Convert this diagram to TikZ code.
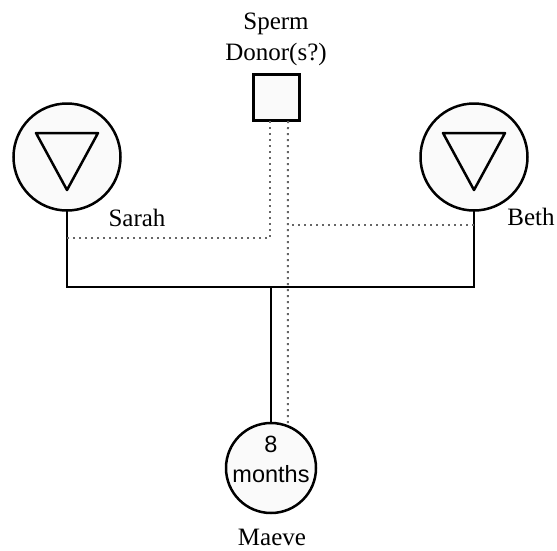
\documentclass[tikz,border=0pt]{standalone}
\usepackage{fontspec}
\setmainfont{Liberation Serif}
\setsansfont{Liberation Sans}
\begin{document}
\begin{tikzpicture}[x=1pt,y=-1pt,
  person/.style={circle,draw=black,line width=2.5pt,fill=black!2,inner sep=0pt,outer sep=0pt},
  donorbox/.style={rectangle,draw=black,line width=3pt,fill=black!2,minimum size=46pt,inner sep=0pt,outer sep=0pt},
  rel/.style={line width=2.5pt,black},
  dotrel/.style={line width=2pt,black!60,dash pattern=on 2pt off 4pt},
  lbl/.style={font=\fontsize{25}{31}\selectfont,inner sep=0pt,anchor=base},
  tri/.style={line width=2.5pt,line join=round}]
\useasboundingbox (0,0) rectangle (557,550);
\node[person,minimum size=107pt] (sarah) at (67,157) {};
\node[person,minimum size=107pt] (beth) at (474,157) {};
\node[donorbox] (donor) at (276,97) {};
\node[person,minimum size=90pt] (maeve) at (271,468) {};
\draw[tri] ([shift={(-31,-24)}]sarah.center) -- ([shift={(31,-24)}]sarah.center) -- ([shift={(0,33)}]sarah.center) -- cycle;
\draw[tri] ([shift={(-31,-24)}]beth.center) -- ([shift={(31,-24)}]beth.center) -- ([shift={(0,33)}]beth.center) -- cycle;
\node[lbl,align=center] (donorlbl) at (276,60) {Sperm\\Donor(s?)};
\node[lbl] (sarahlbl) at (137,226) {Sarah};
\node[lbl] (bethlbl) at (531,225) {Beth};
\node[lbl] (maevelbl) at (272,545) {Maeve};
\node[font=\sffamily\fontsize{23.5}{30}\selectfont,align=center,inner sep=0pt,anchor=base] (age) at (271,482) {8\\months};
\coordinate (sl) at (67,287);
\coordinate (br) at (474,287);
\coordinate (mid) at (271,287);
\draw[rel] (sarah.south) -- (sl) -- (br) -- (beth.south);
\draw[rel] (mid) -- (maeve.north);
\coordinate (d1) at (270,121);
\coordinate (d1b) at (270,238);
\coordinate (sd) at (67,238);
\coordinate (d2) at (288,121);
\coordinate (d2b) at (288,225);
\coordinate (bd) at (474,225);
\draw[dotrel] (d1) -- (d1b) -- (sd);
\draw[dotrel] (d2) -- (maeve.68);
\draw[dotrel] ([xshift=4pt]d2b) -- (bd);
\end{tikzpicture}
\end{document}
